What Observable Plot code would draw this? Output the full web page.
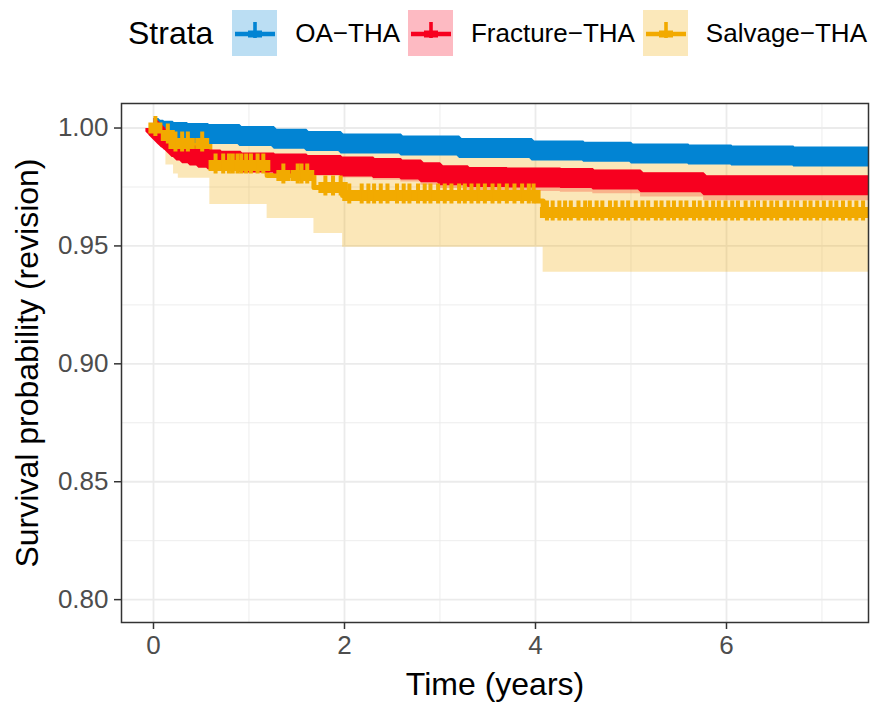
<!DOCTYPE html>
<html>
<head>
<meta charset="utf-8">
<script src="https://cdn.jsdelivr.net/npm/d3@7"></script>
<script src="https://cdn.jsdelivr.net/npm/@observablehq/plot@0.6"></script>
<style>
  body { margin: 0; background: #fff; font-family: "Liberation Sans", Arial, sans-serif; }
  #legend { height: 62px; padding-top: 4px; display: flex; align-items: center; padding-left: 128px; box-sizing: border-box; }
  #legend .ttl { font-size: 32px; margin-right: 19px; color: #000; }
  #legend .lab { font-size: 26px; margin-left: 18px; margin-right: 8px; color: #000; }
  #legend svg { display: block; }
  #chart { height: 640px; }
</style>
</head>
<body>
<div id="legend"></div>
<div id="chart"></div>
<script>
// ---- data ----
const strata = ["OA\u2212THA", "Fracture\u2212THA", "Salvage\u2212THA"];
const colors = ["#0284D3", "#F7001F", "#F2AA00"];

const yMajor = [0.80, 0.85, 0.90, 0.95, 1.00];
const yMinor = [0.825, 0.875, 0.925, 0.975];
const xMajor = [0, 2, 4, 6];
const xMinor = [1, 3, 5, 7];

// OA-THA
const oaTime  = [0, 0.05, 0.10, 0.20, 0.35, 0.57, 0.90, 1.26, 1.60, 1.96, 2.59, 3.20, 3.96, 4.50, 5.00, 5.60, 6.05, 6.70, 7.49];
const oaSurv  = [1.0000, 0.9993, 0.9988, 0.9983, 0.9979, 0.9975, 0.9966, 0.9955, 0.9945, 0.9934, 0.9926, 0.9915, 0.9905, 0.9899, 0.9892, 0.9888, 0.9883, 0.9879, 0.9875];
const oaLower = [1.0000, 0.9990, 0.9984, 0.9978, 0.9974, 0.9969, 0.9959, 0.9947, 0.9936, 0.9924, 0.9915, 0.9903, 0.9892, 0.9885, 0.9877, 0.9872, 0.9866, 0.9861, 0.9856];
const oaUpper = [1.0000, 0.9996, 0.9992, 0.9988, 0.9984, 0.9981, 0.9973, 0.9963, 0.9954, 0.9944, 0.9937, 0.9927, 0.9918, 0.9913, 0.9907, 0.9904, 0.9900, 0.9897, 0.9894];

// Fracture-THA
const frTime  = [0, 0.02, 0.05, 0.08, 0.11, 0.15, 0.19, 0.24, 0.30, 0.38, 0.47, 0.57, 0.70, 0.91, 1.26, 1.60, 1.96, 2.30, 2.59, 2.80, 3.00, 3.29, 3.70, 4.26, 4.60, 5.10, 5.76, 7.49];
const frSurv  = [1.0000, 0.9985, 0.9972, 0.9960, 0.9950, 0.9935, 0.9920, 0.9905, 0.9893, 0.9883, 0.9874, 0.9867, 0.9861, 0.9854, 0.9850, 0.9843, 0.9837, 0.9830, 0.9824, 0.9812, 0.9800, 0.9792, 0.9790, 0.9788, 0.9782, 0.9770, 0.9757, 0.9757];
const frLower = [1.0000, 0.9970, 0.9952, 0.9936, 0.9923, 0.9905, 0.9888, 0.9871, 0.9857, 0.9845, 0.9835, 0.9826, 0.9819, 0.9810, 0.9804, 0.9796, 0.9788, 0.9779, 0.9771, 0.9757, 0.9744, 0.9735, 0.9731, 0.9728, 0.9721, 0.9707, 0.9692, 0.9692];
const frUpper = [1.0000, 0.9995, 0.9985, 0.9975, 0.9967, 0.9954, 0.9941, 0.9928, 0.9918, 0.9909, 0.9901, 0.9895, 0.9890, 0.9884, 0.9881, 0.9875, 0.9870, 0.9864, 0.9859, 0.9848, 0.9837, 0.9830, 0.9829, 0.9828, 0.9822, 0.9810, 0.9797, 0.9797];

// Salvage-THA
const svTime  = [0, 0.04, 0.13, 0.21, 0.26, 0.59, 1.19, 1.68, 1.98, 4.00, 4.08, 7.49];
const svSurv  = [1.0000, 0.9968, 0.9968, 0.9934, 0.9934, 0.9841, 0.9799, 0.9748, 0.9714, 0.9690, 0.9642, 0.9642];
const svLower = [1.0000, 0.9930, 0.9843, 0.9805, 0.9787, 0.9676, 0.9616, 0.9553, 0.9494, 0.9494, 0.9388, 0.9388];
const svUpper = [1.0000, 1.0000, 1.0000, 0.9990, 0.9990, 0.9960, 0.9950, 0.9930, 0.9920, 0.9910, 0.9890, 0.9890];
// censoring times (Salvage-THA "+" marks)
const svCensor = [0.02, 0.15, 0.23, 0.30, 0.36, 0.51, 0.65, 0.73, 0.79, 0.83, 0.88, 0.92, 0.97, 1.02, 1.09, 1.15,
  1.36, 1.51, 1.55, 1.61, 1.80, 1.88, 1.96, 2.05, 2.18, 2.25, 2.31, 2.38, 2.45, 2.55, 2.62, 2.68, 2.77, 2.84, 2.90,
  2.98, 3.05, 3.12, 3.20, 3.26, 3.33, 3.40, 3.47, 3.55, 3.62, 3.70, 3.78, 3.86, 3.93, 3.98, 4.12, 4.18, 4.25, 4.31,
  4.37, 4.45, 4.52, 4.57, 4.64, 4.70, 4.78, 4.84, 4.91, 4.97, 5.05, 5.12, 5.18, 5.26, 5.32, 5.39, 5.45, 5.52, 5.58,
  5.66, 5.72, 5.79, 5.86, 5.92, 5.99, 6.06, 6.12, 6.20, 6.27, 6.33, 6.40, 6.47, 6.53, 6.61, 6.68, 6.74, 6.82, 6.88,
  6.95, 7.02, 7.09, 7.15, 7.22, 7.29, 7.36, 7.43];

// ---- build tables ----
const rows = (name, T, S, L, U) => T.map((t, i) => ({strata: name, time: t, surv: S[i], lower: L[i], upper: U[i]}));
const oa = rows(strata[0], oaTime, oaSurv, oaLower, oaUpper);
const fr = rows(strata[1], frTime, frSurv, frLower, frUpper);
const sv = rows(strata[2], svTime, svSurv, svLower, svUpper);
const all = [...oa, ...fr, ...sv];
const stepAt = (T, S, t) => S[Math.max(0, d3.bisectRight(T, t) - 1)];
const svMarks = svCensor.map(t => ({time: t, surv: stepAt(svTime, svSurv, t)}));

const plusSym = {
  draw(ctx) {
    ctx.rect(-7, -5.5, 14, 11);
    ctx.rect(-2, -12, 4, 20);
  }
};

// ---- legend ----
const legend = d3.select("#legend");
legend.append("span").attr("class", "ttl").text("Strata");
strata.forEach((s, i) => {
  const svg = legend.append("svg").attr("width", 46).attr("height", 46);
  svg.append("rect").attr("width", 46).attr("height", 46).attr("fill", colors[i]).attr("fill-opacity", 0.27);
  svg.append("line").attr("x1", 3).attr("x2", 43).attr("y1", 24).attr("y2", 24)
    .attr("stroke", colors[i]).attr("stroke-width", 4.5);
  svg.append("path").attr("transform", "translate(23,24)").attr("fill", colors[i])
    .attr("d", "M-7,-3.5h14v7h-14z M-1.8,-12h3.6v16h-3.6z");
  legend.append("span").attr("class", "lab").text(s);
});

// ---- chart ----
const chart = Plot.plot({
  width: 875,
  height: 640,
  marginTop: 41,
  marginBottom: 80,
  marginLeft: 121,
  marginRight: 7,
  style: {fontFamily: "'Liberation Sans', Arial, sans-serif", fontSize: "26px", background: "white"},
  x: {domain: [-0.335, 7.487]},
  y: {domain: [0.7903, 1.0104]},
  color: {domain: strata, range: colors},
  marks: [
    Plot.ruleY(yMinor, {stroke: "#EBEBEB", strokeWidth: 0.9}),
    Plot.ruleX(xMinor, {stroke: "#EBEBEB", strokeWidth: 0.9}),
    Plot.ruleY(yMajor, {stroke: "#EBEBEB", strokeWidth: 1.8}),
    Plot.ruleX(xMajor, {stroke: "#EBEBEB", strokeWidth: 1.8}),
    Plot.areaY(all, {x: "time", y1: "lower", y2: "upper", z: "strata", fill: "strata", fillOpacity: 0.28, curve: "step-after", clip: true}),
    Plot.lineY(sv, {x: "time", y: "surv", stroke: colors[2], strokeWidth: 5, curve: "step-after", clip: true}),
    Plot.lineY(oa, {x: "time", y: "surv", stroke: colors[0], strokeWidth: 20, curve: "step-after", strokeLinecap: "butt", strokeLinejoin: "miter", clip: true}),
    Plot.lineY(fr, {x: "time", y: "surv", stroke: colors[1], strokeWidth: 20, curve: "step-after", strokeLinecap: "butt", strokeLinejoin: "miter", clip: true}),
    Plot.dot(svMarks, {x: "time", y: "surv", symbol: plusSym, fill: colors[2], stroke: "none", clip: true}),
    Plot.frame({stroke: "#333333", strokeWidth: 1.5}),
    Plot.axisY(yMajor, {tickFormat: d3.format(".2f"), tickSize: 7, tickPadding: 6, fontSize: 26, fill: "#4D4D4D", stroke: "#333333", strokeWidth: 1.5, label: null}),
    Plot.axisX(xMajor, {tickFormat: d3.format("d"), tickSize: 7, tickPadding: 6, fontSize: 26, fill: "#4D4D4D", stroke: "#333333", strokeWidth: 1.5, label: null}),
    Plot.text(["Time (years)"], {text: d => d, frameAnchor: "bottom", dy: 72, fontSize: 32, fill: "black"}),
    Plot.text(["Survival probability (revision)"], {text: d => d, frameAnchor: "left", textAnchor: "middle", dx: -94, rotate: -90, fontSize: 32, fill: "black"})
  ]
});
document.getElementById("chart").appendChild(chart);
</script>
</body>
</html>
